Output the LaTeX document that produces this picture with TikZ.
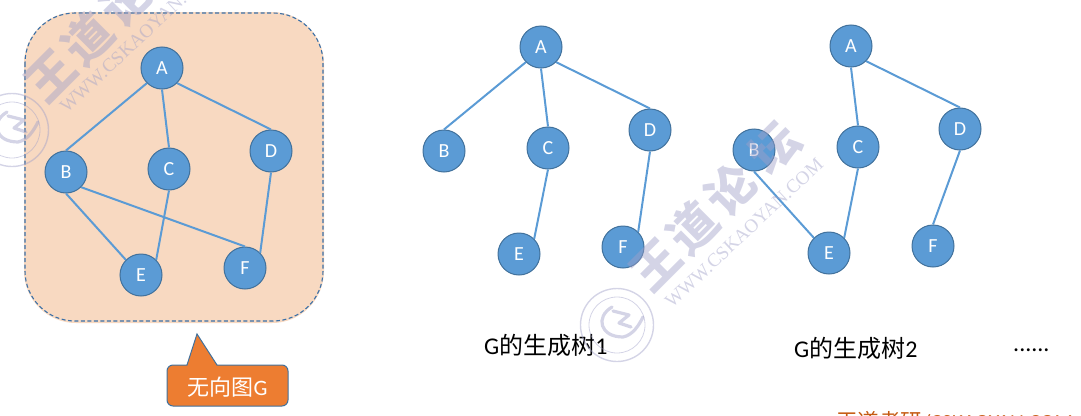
\documentclass[tikz,border=0pt]{standalone}
\usepackage{fontspec}
\setmainfont{Carlito}
\newfontfamily\cjk{Noto Sans CJK SC}
\newfontfamily\wmserif{Liberation Serif}
\definecolor{nodeblue}{HTML}{5B9BD5}
\definecolor{nodeedge}{HTML}{41719C}
\definecolor{dashblue}{HTML}{3A70A8}
\definecolor{peach}{HTML}{F8D9C1}
\definecolor{calloutfill}{HTML}{ED7D31}
\definecolor{wmcolor}{HTML}{A0A0C8}
\definecolor{redbrown}{HTML}{C55A11}
\tikzset{
  x=1pt,y=-1pt,
  vertex/.style={circle,draw=nodeedge,line width=1pt,fill=nodeblue,minimum size=42pt,inner sep=0pt,text=white,font=\fontsize{20}{20}\selectfont},
  link/.style={draw=nodeblue,line width=2pt},
  caption/.style={font=\fontsize{24}{24}\selectfont,text=black,inner sep=0pt},
  wmbig/.style={text=wmcolor,opacity=.45,font=\cjk\bfseries\fontsize{48}{48}\selectfont,rotate=45,inner sep=0pt},
  wmurl/.style={text=wmcolor,opacity=.45,font=\wmserif\fontsize{19}{19}\selectfont,rotate=43,inner sep=0pt},
  wmring/.style={draw=wmcolor,opacity=.45,line width=1.4pt},
  wmswirl/.style={draw=wmcolor,opacity=.45,line width=3.2pt,line cap=round,line join=round},
}
\begin{document}
\begin{tikzpicture}
\useasboundingbox (0,0) rectangle (1081,415);
\clip (0,0) rectangle (1081,415);
% panel
\path[fill=peach,rounded corners=52pt] (24,12) rectangle (324,323);
\draw[dashblue,line width=1.1pt,dash pattern=on 4pt off 2.5pt,rounded corners=50pt] (25,13) rectangle (323,321);
% callout
\draw[fill=calloutfill,draw=nodeedge,line width=1pt]
  (187,365) -- (197,334) -- (217,365) -- (282,365)
  arc[start angle=90,end angle=0,radius=6pt] -- (288,400)
  arc[start angle=0,end angle=-90,radius=6pt] -- (173,406)
  arc[start angle=270,end angle=180,radius=6pt] -- (167,371)
  arc[start angle=180,end angle=90,radius=6pt] -- cycle;
\node[text=white,inner sep=0pt,font=\fontsize{22}{22}\selectfont] (gl) at (227.5,387) {{\cjk 无向图}G};
% graph G
\node[vertex] (a0) at (162,68) {A};
\node[vertex] (b0) at (66,172) {B};
\node[vertex] (c0) at (169,169) {C};
\node[vertex] (d0) at (271,151) {D};
\node[vertex] (e0) at (141,275) {E};
\node[vertex] (f0) at (245,268) {F};
% tree 1
\node[vertex] (a1) at (541,47) {A};
\node[vertex] (b1) at (444,151) {B};
\node[vertex] (c1) at (548,148) {C};
\node[vertex] (d1) at (650,130) {D};
\node[vertex] (e1) at (519,254) {E};
\node[vertex] (f1) at (623,247) {F};
% tree 2
\node[vertex] (a2) at (851,46) {A};
\node[vertex] (b2) at (754,150) {B};
\node[vertex] (c2) at (858,147) {C};
\node[vertex] (d2) at (960,129) {D};
\node[vertex] (e2) at (829,253) {E};
\node[vertex] (f2) at (933,246) {F};
% connectors
\foreach \s/\t in {a0.south west/b0.north,a0.south/c0.north,a0.south east/d0.north,
                   b0.south/e0.north west,b0.south east/f0.north,c0.south/e0.north east,d0.south/f0.north east,
                   a1.south west/b1.north,a1.south/c1.north,a1.south east/d1.north,
                   c1.south/e1.north east,d1.south/f1.north east,
                   a2.south/c2.north,a2.south east/d2.north,b2.south/e2.north west,
                   c2.south/e2.north east,d2.south/f2.north}
  \draw[link] (\s) -- (\t);
% captions
\node[caption,anchor=west] (t1) at (484,345) {G{\cjk 的生成树}1};
\node[caption,anchor=west] (t2) at (794,348) {G{\cjk 的生成树}2};
\node[caption,anchor=west] (t3) at (1013,350) {......};
\node[anchor=west,inner sep=0pt,text=redbrown,font=\fontsize{21.5}{22}\selectfont] (wmred) at (836,421) {{\cjk 王道考研}/CSKAOYAN.COM};
% watermarks
\node[wmbig] (w1) at (51,76) {王};
\node[wmbig] (w2) at (88,39) {道};
\node[wmbig] (w3) at (126,1) {论};
\node[wmurl] (w4) at (139,38) {WWW.CSKAOYAN.COM};
\draw[wmring] (12,130) circle (36.5pt);
\draw[wmring,line width=.8pt] (12,130) circle (28pt);
\draw[wmswirl] (7,112) .. controls (-10,122) and (-5,142) .. (18,142) .. controls (28,140) and (34,130) .. (38,122);
\draw[wmswirl] (8,116) -- (24,120) -- (14,128) -- (26,132);
\node[wmbig] (w5) at (656,265) {王};
\node[wmbig] (w6) at (693,228) {道};
\node[wmbig] (w7) at (731,190) {论};
\node[wmbig] (w8) at (775,148) {坛};
\node[wmurl] (w9) at (744,233) {WWW.CSKAOYAN.COM};
\draw[wmring] (617,325) circle (36.5pt);
\draw[wmring,line width=.8pt] (617,325) circle (28pt);
\draw[wmswirl] (612,307) .. controls (595,317) and (600,337) .. (623,337) .. controls (633,335) and (639,325) .. (643,317);
\draw[wmswirl] (613,311) -- (629,315) -- (619,323) -- (631,327);
\end{tikzpicture}
\end{document}
